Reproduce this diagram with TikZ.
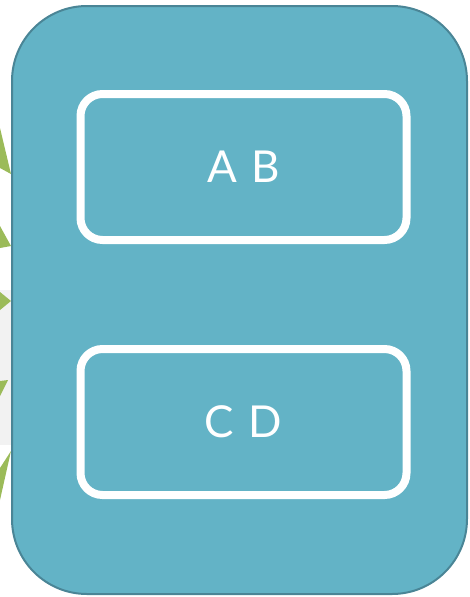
\documentclass[tikz,border=0pt]{standalone}
\usepackage{fontspec}
\setmainfont{Lato}
\definecolor{boxfill}{HTML}{63B3C6}
\definecolor{boxline}{HTML}{4A8596}
\definecolor{arrowgreen}{HTML}{9BBB59}
\definecolor{lightgray}{HTML}{F2F2F2}
\begin{document}
\begin{tikzpicture}[x=1pt,y=-1pt,
  outerbox/.style={draw=boxline,line width=2pt,fill=boxfill,rounded corners=75pt},
  innerbox/.style={draw=white,line width=8pt,rounded corners=22pt,minimum width=326pt,minimum height=146pt,
     font=\fontsize{44}{44}\selectfont,text=white},
  tipshape/.style={fill=arrowgreen,draw=none}]
\useasboundingbox (0,0) rectangle (469,597);
\fill[lightgray] (0,290) rectangle (11,445);
\draw[outerbox] (12,6) rectangle (467,594);
\node[innerbox] (ab) at (243.5,167) {A\,\,B};
\node[innerbox] (cd) at (243.5,422) {C\,\,D};
% cut-off arrowheads of incoming connectors
\coordinate (t1) at (11,174);
\coordinate (t2) at (11,246);
\coordinate (t3) at (11,301);
\coordinate (t4) at (8,380);
\coordinate (t5) at (11,451);
\fill[tipshape] (0,128) -- (t1) -- (0,168) -- cycle;
\fill[tipshape] (0,226) -- (t2) -- (0,248) -- cycle;
\fill[tipshape] (0,292) -- (t3) -- (0,310) -- cycle;
\fill[tipshape] (0,381) -- (t4) -- (0,396) -- cycle;
\fill[tipshape] (0,468) -- (t5) -- (0,500) -- cycle;
\end{tikzpicture}
\end{document}
